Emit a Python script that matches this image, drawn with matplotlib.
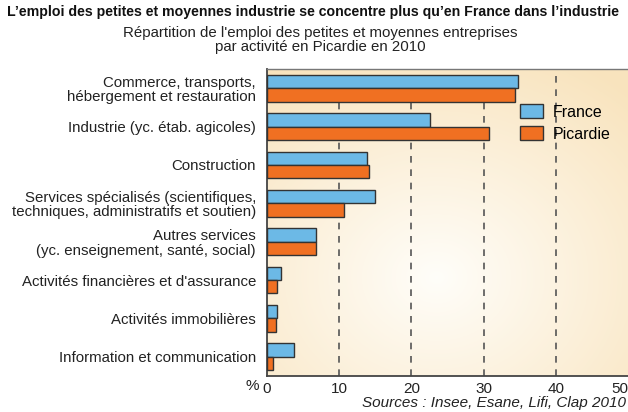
import numpy as np
import matplotlib
matplotlib.use("Agg")
import matplotlib.pyplot as plt
from matplotlib import font_manager as fm

names = {f.name for f in fm.fontManager.ttflist}
FONT = "Liberation Sans Narrow" if "Liberation Sans Narrow" in names else "Liberation Sans"
plt.rcParams['font.family'] = [FONT, 'DejaVu Sans']

categories = [
    "Commerce, transports,\nhébergement et restauration",
    "Industrie (yc. étab. agicoles)",
    "Construction",
    "Services spécialisés (scientifiques,\ntechniques, administratifs et soutien)",
    "Autres services\n(yc. enseignement, santé, social)",
    "Activités financières et d'assurance",
    "Activités immobilières",
    "Information et communication",
]
france = [34.8, 22.6, 13.9, 15.0, 6.8, 1.9, 1.4, 3.8]
picardie = [34.3, 30.7, 14.1, 10.7, 6.8, 1.4, 1.2, 0.8]
xticks = [0, 10, 20, 30, 40, 50]

fig = plt.figure(figsize=(6.28, 4.12), dpi=100)
ax = fig.add_axes([267/628, 1-376/412, 361/628, (376-69)/412])

# radial gradient background
nx, ny = 300, 200
xx, yy = np.meshgrid(np.linspace(0, 1, nx), np.linspace(0, 1, ny))
d = np.sqrt(((xx-0.47)/0.8)**2 + ((yy-0.68)/0.8)**2)
d = np.clip(d, 0, 1)
c0 = np.array([1.0, 0.995, 0.978])
c1 = np.array([0.975, 0.893, 0.745])
img = c0[None, None, :]*(1-d[..., None]) + c1[None, None, :]*d[..., None]
ax.imshow(img, extent=[0, 50, 7.5, -0.5], aspect='auto', zorder=0, origin='upper')

y = np.arange(len(categories))
h = 0.35
ax.barh(y - h/2, france, height=h, color='#6cb9e6', edgecolor='#333333', linewidth=1.0, label='France', zorder=3)
ax.barh(y + h/2, picardie, height=h, color='#f07022', edgecolor='#333333', linewidth=1.0, label='Picardie', zorder=3)

ax.set_xlim(0, 50)
ax.set_ylim(7.5, -0.5)
ax.set_yticks(y)
ax.set_yticklabels(categories, fontsize=10.8, linespacing=1.05)
ax.set_xticks(xticks)
xt = ax.set_xticklabels([str(v) for v in xticks], fontsize=11)
xt[-1].set_horizontalalignment('right')
ax.tick_params(axis='both', length=0, colors='#222222')
ax.tick_params(axis='y', pad=8)
ax.tick_params(axis='x', pad=4)
for v in xticks[1:-1]:
    ax.axvline(v, color='#555555', linestyle=(0, (4, 4)), linewidth=1.2, zorder=1)

for s in ['left', 'bottom']:
    ax.spines[s].set_color('#444444')
    ax.spines[s].set_linewidth(1.3)
ax.spines['top'].set_color('#777777')
ax.spines['top'].set_linewidth(1.0)
ax.spines['right'].set_visible(False)

leg = ax.legend(loc='upper left', bbox_to_anchor=((520-267)/361, (376-104)/307), frameon=False, fontsize=11.5,
                handlelength=1.45, handleheight=1.0, handletextpad=0.6, labelspacing=0.4,
                borderpad=0, borderaxespad=0)

fig.text(313/628, 1-12/412, "L’emploi des petites et moyennes industrie se concentre plus qu’en France dans l’industrie",
         ha='center', va='center', fontsize=10.15, fontweight='bold', color='#111111')
fig.text(320/628, 1-40/412, "Répartition de l'emploi des petites et moyennes entreprises\npar activité en Picardie en 2010",
         ha='center', va='center', fontsize=10.8, linespacing=1.0, color='#222222')
fig.text(252/628, 1-386/412, "%", ha='center', va='center', fontsize=11, color='#222222')
fig.text(626/628, 1-403/412, "Sources : Insee, Esane, Lifi, Clap 2010", ha='right', va='center',
         fontsize=11, style='italic', color='#222222')

fig.savefig("out.png", dpi=100)
